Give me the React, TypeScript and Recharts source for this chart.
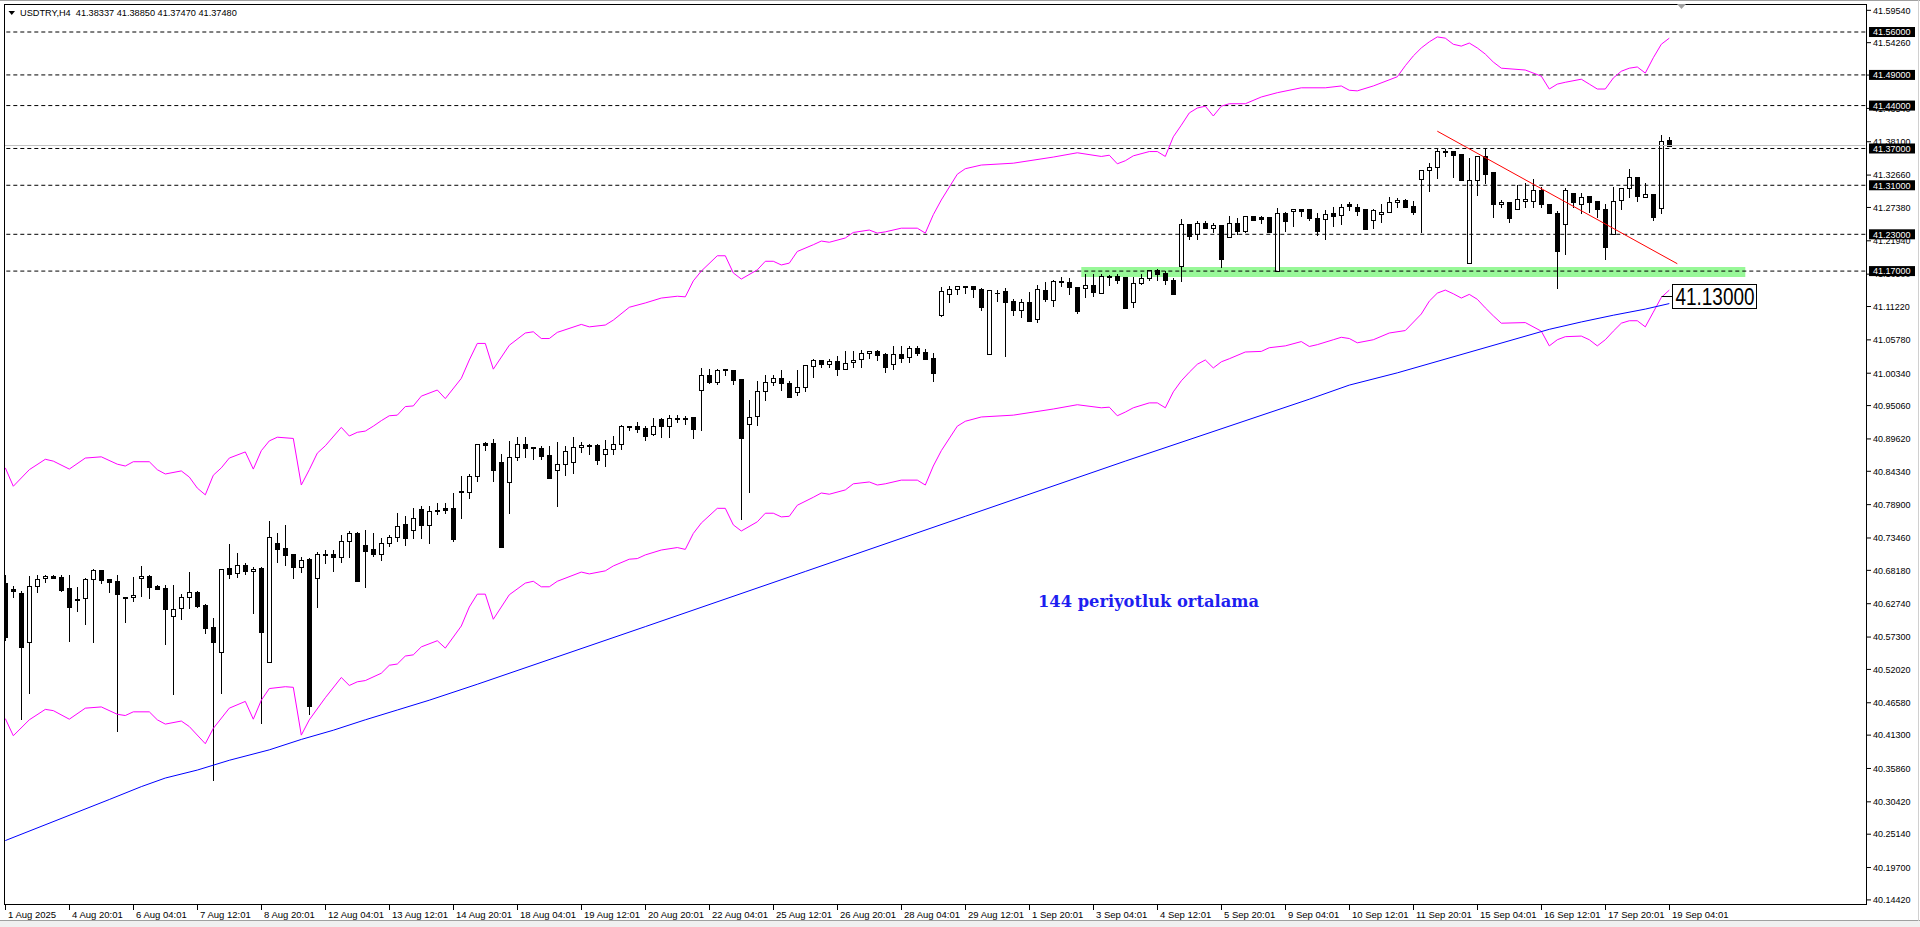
import React from "react";
import {
  ComposedChart,
  Bar,
  Line,
  XAxis,
  YAxis,
  ReferenceLine,
  ReferenceArea,
  ReferenceDot,
} from "recharts";

// USDTRY H4 candles (bar 0 = 1 Aug 12:01)
const OPEN = [
  40.661, 40.651, 40.645, 40.565, 40.656, 40.669, 40.672, 40.671, 40.653, 40.635,
  40.636, 40.667, 40.682, 40.667, 40.665, 40.639, 40.639, 40.669, 40.672, 40.656,
  40.653, 40.607, 40.621, 40.639, 40.647, 40.625, 40.589, 40.549, 40.685, 40.677,
  40.691, 40.680, 40.685, 40.532, 40.726, 40.718, 40.709, 40.687, 40.700, 40.669,
  40.709, 40.708, 40.704, 40.729, 40.743, 40.723, 40.717, 40.708, 40.726, 40.736,
  40.757, 40.748, 40.782, 40.755, 40.781, 40.783, 40.783, 40.812, 40.809, 40.835,
  40.890, 40.890, 40.858, 40.826, 40.866, 40.888, 40.883, 40.882, 40.870, 40.845,
  40.856, 40.858, 40.883, 40.886, 40.886, 40.871, 40.879, 40.888, 40.918, 40.918,
  40.914, 40.904, 40.928, 40.918, 40.930, 40.928, 40.932, 40.976, 41.001, 40.989,
  41.010, 41.009, 40.994, 40.920, 40.934, 40.975, 40.989, 40.995, 40.988, 40.972,
  40.981, 41.015, 41.025, 41.019, 41.023, 41.010, 41.021, 41.026, 41.036, 41.039,
  41.035, 41.019, 41.035, 41.030, 41.044, 41.038, 41.028, 41.098, 41.133, 41.141,
  41.144, 41.145, 41.141, 41.035, 41.135, 41.138, 41.122, 41.107, 41.119, 41.092,
  41.139, 41.123, 41.154, 41.152, 41.144, 41.142, 41.148, 41.135, 41.161, 41.162,
  41.160, 41.119, 41.150, 41.158, 41.171, 41.167, 41.156, 41.179, 41.247, 41.230,
  41.248, 41.241, 41.245, 41.226, 41.248, 41.236, 41.260, 41.258, 41.258, 41.170,
  41.264, 41.268, 41.271, 41.271, 41.256, 41.255, 41.264, 41.261, 41.279, 41.275,
  41.271, 41.254, 41.263, 41.266, 41.282, 41.286, 41.276, 41.321, 41.335, 41.339,
  41.365, 41.366, 41.361, 41.183, 41.318, 41.358, 41.331, 41.279, 41.283, 41.271,
  41.285, 41.285, 41.303, 41.279, 41.264, 41.246, 41.298, 41.280, 41.292, 41.285,
  41.271, 41.230, 41.286, 41.306, 41.324, 41.291, 41.295, 41.273, 41.38337,
];
const HIGH = [
  40.674, 40.657, 40.648, 40.673, 40.674, 40.674, 40.674, 40.674, 40.674, 40.655,
  40.669, 40.684, 40.683, 40.667, 40.674, 40.639, 40.671, 40.689, 40.674, 40.658,
  40.658, 40.658, 40.643, 40.679, 40.648, 40.627, 40.604, 40.684, 40.724, 40.710,
  40.693, 40.688, 40.688, 40.762, 40.742, 40.755, 40.709, 40.703, 40.702, 40.712,
  40.715, 40.715, 40.739, 40.746, 40.745, 40.748, 40.742, 40.734, 40.740, 40.776,
  40.770, 40.783, 40.786, 40.787, 40.791, 40.791, 40.808, 40.835, 40.839, 40.888,
  40.891, 40.896, 40.872, 40.893, 40.899, 40.899, 40.883, 40.885, 40.884, 40.891,
  40.884, 40.899, 40.891, 40.888, 40.888, 40.894, 40.901, 40.919, 40.918, 40.924,
  40.918, 40.930, 40.931, 40.935, 40.935, 40.934, 40.932, 41.012, 41.010, 41.010,
  41.010, 41.009, 40.994, 40.960, 40.991, 41.001, 41.000, 41.008, 40.990, 41.008,
  41.017, 41.027, 41.025, 41.027, 41.031, 41.040, 41.040, 41.041, 41.039, 41.041,
  41.036, 41.048, 41.048, 41.048, 41.048, 41.043, 41.036, 41.144, 41.145, 41.145,
  41.145, 41.145, 41.143, 41.139, 41.139, 41.142, 41.124, 41.124, 41.136, 41.148,
  41.152, 41.155, 41.160, 41.158, 41.144, 41.166, 41.165, 41.165, 41.163, 41.165,
  41.160, 41.160, 41.165, 41.172, 41.173, 41.170, 41.158, 41.255, 41.247, 41.252,
  41.252, 41.249, 41.245, 41.260, 41.256, 41.260, 41.260, 41.260, 41.258, 41.273,
  41.267, 41.271, 41.272, 41.271, 41.264, 41.269, 41.275, 41.279, 41.282, 41.279,
  41.271, 41.271, 41.280, 41.291, 41.290, 41.287, 41.285, 41.335, 41.346, 41.369,
  41.369, 41.366, 41.361, 41.354, 41.357, 41.371, 41.331, 41.286, 41.283, 41.311,
  41.313, 41.320, 41.307, 41.279, 41.268, 41.305, 41.298, 41.297, 41.292, 41.285,
  41.279, 41.307, 41.306, 41.336, 41.324, 41.313, 41.295, 41.392, 41.3885,
];
const LOW = [
  40.568, 40.639, 40.439, 40.481, 40.647, 40.663, 40.669, 40.648, 40.567, 40.616,
  40.595, 40.565, 40.661, 40.646, 40.419, 40.598, 40.632, 40.640, 40.636, 40.651,
  40.561, 40.480, 40.603, 40.621, 40.622, 40.579, 40.340, 40.482, 40.670, 40.671,
  40.676, 40.612, 40.433, 40.532, 40.696, 40.690, 40.670, 40.679, 40.447, 40.622,
  40.693, 40.680, 40.696, 40.703, 40.664, 40.654, 40.705, 40.699, 40.721, 40.730,
  40.723, 40.734, 40.734, 40.727, 40.774, 40.775, 40.730, 40.768, 40.800, 40.827,
  40.878, 40.828, 40.720, 40.776, 40.862, 40.866, 40.864, 40.864, 40.833, 40.787,
  40.838, 40.841, 40.875, 40.872, 40.855, 40.852, 40.872, 40.880, 40.911, 40.907,
  40.894, 40.903, 40.899, 40.900, 40.924, 40.921, 40.898, 40.910, 40.988, 40.986,
  41.000, 40.985, 40.766, 40.810, 40.919, 40.960, 40.984, 40.976, 40.964, 40.968,
  40.975, 40.998, 41.013, 41.013, 41.001, 41.010, 41.013, 41.014, 41.029, 41.025,
  41.006, 41.011, 41.022, 41.022, 41.033, 41.027, 40.991, 41.097, 41.119, 41.133,
  41.135, 41.128, 41.107, 41.035, 41.122, 41.032, 41.099, 41.095, 41.089, 41.087,
  41.122, 41.113, 41.146, 41.133, 41.102, 41.128, 41.130, 41.135, 41.148, 41.150,
  41.109, 41.112, 41.149, 41.155, 41.155, 41.149, 41.133, 41.154, 41.222, 41.222,
  41.241, 41.234, 41.177, 41.226, 41.230, 41.234, 41.254, 41.249, 41.233, 41.170,
  41.236, 41.244, 41.260, 41.254, 41.229, 41.222, 41.243, 41.246, 41.270, 41.261,
  41.239, 41.241, 41.250, 41.266, 41.275, 41.274, 41.263, 41.234, 41.301, 41.322,
  41.357, 41.324, 41.318, 41.183, 41.294, 41.314, 41.259, 41.274, 41.250, 41.271,
  41.275, 41.275, 41.274, 41.264, 41.142, 41.198, 41.274, 41.265, 41.267, 41.259,
  41.189, 41.230, 41.272, 41.291, 41.285, 41.291, 41.254, 41.264, 41.3747,
];
const CLOSE = [
  40.573, 40.648, 40.556, 40.656, 40.667, 40.672, 40.670, 40.650, 40.622, 40.633,
  40.668, 40.682, 40.666, 40.662, 40.644, 40.637, 40.642, 40.672, 40.655, 40.652,
  40.618, 40.618, 40.639, 40.646, 40.623, 40.588, 40.565, 40.684, 40.676, 40.690,
  40.680, 40.684, 40.582, 40.736, 40.717, 40.707, 40.688, 40.699, 40.461, 40.709,
  40.707, 40.703, 40.729, 40.743, 40.664, 40.714, 40.709, 40.726, 40.736, 40.754,
  40.734, 40.768, 40.755, 40.779, 40.779, 40.780, 40.733, 40.809, 40.836, 40.888,
  40.887, 40.846, 40.720, 40.866, 40.888, 40.882, 40.881, 40.869, 40.833, 40.856,
  40.877, 40.883, 40.886, 40.884, 40.862, 40.880, 40.888, 40.917, 40.916, 40.912,
  40.901, 40.918, 40.918, 40.930, 40.928, 40.931, 40.913, 41.000, 40.989, 41.009,
  41.008, 40.993, 40.897, 40.932, 40.975, 40.989, 40.995, 40.987, 40.964, 40.981,
  41.017, 41.025, 41.019, 41.023, 41.011, 41.020, 41.025, 41.037, 41.039, 41.033,
  41.014, 41.035, 41.029, 41.045, 41.037, 41.027, 41.003, 41.137, 41.141, 41.145,
  41.145, 41.140, 41.112, 41.139, 41.134, 41.120, 41.107, 41.119, 41.089, 41.141,
  41.124, 41.154, 41.152, 41.144, 41.105, 41.148, 41.136, 41.162, 41.162, 41.156,
  41.109, 41.150, 41.158, 41.171, 41.166, 41.155, 41.133, 41.246, 41.228, 41.248,
  41.241, 41.245, 41.189, 41.248, 41.236, 41.260, 41.254, 41.255, 41.233, 41.264,
  41.252, 41.271, 41.268, 41.257, 41.236, 41.263, 41.260, 41.275, 41.276, 41.268,
  41.239, 41.269, 41.266, 41.283, 41.286, 41.275, 41.267, 41.335, 41.339, 41.366,
  41.366, 41.360, 41.318, 41.319, 41.357, 41.329, 41.279, 41.283, 41.257, 41.287,
  41.287, 41.303, 41.279, 41.264, 41.203, 41.303, 41.282, 41.291, 41.283, 41.271,
  41.210, 41.285, 41.306, 41.324, 41.292, 41.295, 41.258, 41.383, 41.3748,
];

// one label every 8 bars
const TIME_LABELS = [
  "1 Aug 2025", "4 Aug 20:01", "6 Aug 04:01", "7 Aug 12:01", "8 Aug 20:01",
  "12 Aug 04:01", "13 Aug 12:01", "14 Aug 20:01", "18 Aug 04:01", "19 Aug 12:01",
  "20 Aug 20:01", "22 Aug 04:01", "25 Aug 12:01", "26 Aug 20:01", "28 Aug 04:01",
  "29 Aug 12:01", "1 Sep 20:01", "3 Sep 04:01", "4 Sep 12:01", "5 Sep 20:01",
  "9 Sep 04:01", "10 Sep 12:01", "11 Sep 20:01", "15 Sep 04:01", "16 Sep 12:01",
  "17 Sep 20:01", "19 Sep 04:01",
];

// envelope + 144 MA, [bar, price]
const UPPER_BAND = [
  [0, 40.849], [1, 40.819], [3, 40.846], [5, 40.863], [6, 40.86], [8, 40.847], [10, 40.865],
  [12, 40.867], [14, 40.855], [15, 40.852], [16, 40.859], [18, 40.859], [19, 40.846], [20, 40.839],
  [22, 40.844], [23, 40.834], [24, 40.816], [25, 40.805], [26, 40.837], [27, 40.849], [28, 40.865],
  [30, 40.875], [31, 40.847], [32, 40.877], [33, 40.893], [34, 40.899], [36, 40.897], [37, 40.821],
  [38, 40.846], [39, 40.873], [40, 40.885], [42, 40.915], [43, 40.901], [44, 40.907], [45, 40.909],
  [46, 40.917], [47, 40.926], [48, 40.934], [49, 40.935], [50, 40.949], [51, 40.95], [52, 40.966],
  [54, 40.976], [55, 40.962], [57, 40.995], [58, 41.025], [59, 41.052], [60, 41.052], [61, 41.01],
  [63, 41.049], [65, 41.069], [66, 41.071], [67, 41.06], [68, 41.06], [69, 41.07], [72, 41.083],
  [73, 41.079], [75, 41.082], [76, 41.09], [78, 41.111], [80, 41.118], [82, 41.126], [84, 41.129],
  [85, 41.128], [86, 41.154], [87, 41.17], [89, 41.195], [90, 41.195], [91, 41.167], [92, 41.157],
  [94, 41.172], [95, 41.186], [96, 41.186], [97, 41.18], [98, 41.183], [99, 41.202], [101, 41.213],
  [102, 41.219], [103, 41.217], [105, 41.224], [106, 41.233], [108, 41.237], [109, 41.232],
  [110, 41.234], [112, 41.24], [114, 41.24], [115, 41.232], [116, 41.262], [117, 41.286],
  [119, 41.328], [120, 41.337], [122, 41.343], [126, 41.346], [131, 41.356], [134, 41.363],
  [137, 41.357], [138, 41.359], [139, 41.345], [140, 41.35], [141, 41.358], [143, 41.365],
  [144, 41.365], [145, 41.357], [146, 41.389], [147, 41.408], [148, 41.428], [149, 41.436],
  [150, 41.439], [151, 41.423], [152, 41.439], [153, 41.443], [155, 41.443], [157, 41.454],
  [159, 41.461], [162, 41.469], [165, 41.469], [167, 41.472], [168, 41.465], [169, 41.464],
  [171, 41.472], [174, 41.487], [175, 41.505], [176, 41.521], [177, 41.534], [178, 41.544],
  [179, 41.552], [180, 41.55], [181, 41.54], [182, 41.537], [183, 41.542], [184, 41.534],
  [185, 41.524], [186, 41.511], [187, 41.501], [190, 41.498], [192, 41.488], [193, 41.467],
  [194, 41.475], [195, 41.478], [197, 41.483], [198, 41.475], [199, 41.467], [200, 41.467],
  [201, 41.485], [202, 41.496], [203, 41.501], [204, 41.503], [205, 41.493], [206, 41.518],
  [207, 41.54], [208, 41.55],
];
const LOWER_BAND = [
  [0, 40.44], [1, 40.412], [3, 40.438], [5, 40.455], [6, 40.453], [8, 40.439], [10, 40.457],
  [12, 40.459], [14, 40.447], [15, 40.445], [16, 40.451], [18, 40.451], [19, 40.438], [20, 40.431],
  [22, 40.436], [23, 40.427], [25, 40.399], [26, 40.424], [28, 40.457], [30, 40.468], [31, 40.439],
  [32, 40.47], [33, 40.489], [35, 40.492], [36, 40.491], [37, 40.413], [38, 40.438], [40, 40.474],
  [42, 40.507], [43, 40.494], [44, 40.5], [45, 40.502], [47, 40.514], [48, 40.527], [49, 40.529],
  [50, 40.542], [51, 40.544], [52, 40.557], [54, 40.567], [55, 40.555], [57, 40.591], [58, 40.622],
  [59, 40.643], [60, 40.643], [61, 40.602], [63, 40.642], [65, 40.661], [66, 40.664], [67, 40.655],
  [68, 40.655], [69, 40.664], [72, 40.679], [73, 40.676], [75, 40.681], [76, 40.689], [78, 40.7],
  [79, 40.701], [80, 40.707], [82, 40.715], [84, 40.719], [85, 40.716], [86, 40.742], [87, 40.759],
  [89, 40.783], [90, 40.783], [91, 40.756], [92, 40.746], [94, 40.761], [95, 40.775], [96, 40.775],
  [97, 40.769], [98, 40.77], [99, 40.788], [101, 40.801], [102, 40.808], [103, 40.806],
  [105, 40.813], [106, 40.823], [108, 40.826], [109, 40.821], [110, 40.823], [112, 40.829],
  [114, 40.829], [115, 40.821], [116, 40.852], [117, 40.877], [119, 40.917], [120, 40.925],
  [122, 40.932], [126, 40.935], [131, 40.945], [134, 40.952], [137, 40.947], [138, 40.948],
  [139, 40.934], [140, 40.94], [141, 40.947], [143, 40.955], [144, 40.955], [145, 40.947],
  [146, 40.973], [147, 40.991], [148, 41.005], [149, 41.018], [150, 41.025], [151, 41.012],
  [152, 41.022], [153, 41.027], [155, 41.038], [157, 41.039], [158, 41.045], [160, 41.048],
  [162, 41.055], [163, 41.047], [164, 41.05], [166, 41.058], [167, 41.062], [168, 41.06],
  [169, 41.053], [171, 41.058], [173, 41.069], [175, 41.073], [177, 41.1], [178, 41.121],
  [179, 41.134], [180, 41.139], [181, 41.133], [182, 41.126], [183, 41.132], [184, 41.124],
  [185, 41.11], [186, 41.097], [187, 41.085], [190, 41.086], [192, 41.072], [193, 41.048],
  [194, 41.058], [195, 41.063], [197, 41.064], [198, 41.058], [199, 41.048], [200, 41.058],
  [201, 41.072], [202, 41.085], [203, 41.089], [204, 41.089], [205, 41.079], [206, 41.103],
  [207, 41.127], [208, 41.139],
];
const MA_144 = [
  [0, 40.241], [13, 40.308], [17, 40.329], [20, 40.343], [24, 40.356], [28, 40.372], [33, 40.389],
  [37, 40.406], [41, 40.421], [45, 40.438], [49, 40.454], [53, 40.47], [59, 40.496], [80, 40.59],
  [100, 40.68], [120, 40.77], [140, 40.86], [163, 40.961], [168, 40.984], [174, 41.004],
  [193, 41.075], [197, 41.087], [201, 41.098], [205, 41.108], [208, 41.117],
];

const PRICE_TICKS = [
  41.5954, 41.5426, 41.4898, 41.4354, 41.381, 41.3266, 41.2738, 41.2194, 41.165, 41.1122,
  41.0578, 41.0034, 40.9506, 40.8962, 40.8434, 40.789, 40.7346, 40.6818, 40.6274, 40.573,
  40.5202, 40.4658, 40.413, 40.3586, 40.3042, 40.2514, 40.197, 40.1442,
];
const LEVELS = [41.56, 41.49, 41.44, 41.37, 41.31, 41.23, 41.17];
const BID = 41.3748;
const NOTE_PRICE = 41.13;
const ZONE_BARS = [135, 217];
const ZONE_PRICES = [41.1604, 41.1767];
const TREND = [
  { x: 179, y: 41.3982 },
  { x: 209, y: 41.182 },
];

const SLOTS = 233;
const AXIS_X = 1867;
const FONT = "'Liberation Sans', Arial, sans-serif";

const rows: any[] = Array.from({ length: SLOTS }, (_, i) => ({
  i,
  o: OPEN[i],
  h: HIGH[i],
  l: LOW[i],
  c: CLOSE[i],
}));
UPPER_BAND.forEach(([b, v]) => (rows[b].up = v));
LOWER_BAND.forEach(([b, v]) => (rows[b].lo = v));
MA_144.forEach(([b, v]) => (rows[b].ma = v));

const Candle = (props: any) => {
  const { x, y, width, height, payload } = props;
  if (!payload || payload.o == null || height == null || isNaN(height)) return null;
  const { o, h, l, c } = payload;
  const top = Math.min(y, y + height);
  const span = Math.abs(height);
  const k = span / (h - l || 1);
  const cx = Math.floor(x + width / 2) + 0.5;
  const yo = top + (h - o) * k;
  const yc = top + (h - c) * k;
  const bt = Math.round(Math.min(yo, yc)) + 0.5;
  const bb = Math.round(Math.max(yo, yc)) + 0.5;
  const up = c >= o;
  return (
    <g>
      <line x1={cx} x2={cx} y1={Math.round(top)} y2={Math.round(top + span) + 1} stroke="#000" />
      {bb - bt < 1 ? (
        <line x1={cx - 2.5} x2={cx + 2.5} y1={bt} y2={bt} stroke="#000" />
      ) : (
        <rect x={cx - 2} y={bt} width={4} height={bb - bt} fill={up ? "#fff" : "#000"} stroke="#000" />
      )}
    </g>
  );
};

const PriceTick = (props: any) => {
  const { y, payload } = props;
  const v = payload.value;
  const txt = v.toFixed(5);
  if (LEVELS.includes(v)) {
    return (
      <g>
        <rect x={AXIS_X + 2} y={y - 5} width={46} height={10} fill="#000" />
        <text x={AXIS_X + 6} y={y + 3.3} fill="#fff" fontSize={9} fontFamily={FONT}>
          {txt}
        </text>
      </g>
    );
  }
  return (
    <g>
      <line x1={AXIS_X} x2={AXIS_X + 4} y1={y} y2={y} stroke="#000" />
      <text x={AXIS_X + 6} y={y + 3.3} fill="#000" fontSize={9} fontFamily={FONT}>
        {txt}
      </text>
    </g>
  );
};

const TimeTick = (props: any) => {
  const { x, payload } = props;
  const label = TIME_LABELS[payload.value / 8];
  const px = Math.floor(x) + 0.5;
  return (
    <g>
      <line x1={px} x2={px} y1={905} y2={910} stroke="#000" />
      <text x={px + 2.5} y={917.5} fill="#000" fontSize={9.5} fontFamily={FONT}>
        {label}
      </text>
    </g>
  );
};

const NoteLabel = (props: any) => {
  const { cx, cy } = props;
  const x0 = Math.floor(cx) + 0.5;
  const y0 = Math.round(cy) + 0.5;
  return (
    <g>
      <line x1={x0 - 8} x2={x0 + 3} y1={y0} y2={y0} stroke="#000" />
      <rect x={x0 + 3} y={y0 - 12} width={84} height={24} fill="#fff" stroke="#000" />
      <text x={x0 + 6} y={y0 + 8.5} fontSize={23} fontFamily={FONT} textLength={79} lengthAdjust="spacingAndGlyphs" fill="#000">
        {NOTE_PRICE.toFixed(5)}
      </text>
    </g>
  );
};

export default function App() {
  const labelTicks = TIME_LABELS.map((_, k) => k * 8);
  return (
    <div style={{ position: "fixed", left: 0, top: 0, width: 1920, height: 927, background: "#fff", overflow: "hidden" }}>
      <ComposedChart
        width={1920}
        height={927}
        data={rows}
        margin={{ top: 4, right: 0, bottom: 0, left: 1.3 }}
        barCategoryGap={0}
      >
        <XAxis
          dataKey="i"
          type="category"
          ticks={labelTicks}
          interval={0}
          height={22}
          tickSize={0}
          axisLine={false}
          tickLine={false}
          tick={(p: any) => <TimeTick {...p} />}
        />
        <YAxis
          orientation="right"
          type="number"
          domain={[40.1359, 41.6057]}
          allowDataOverflow
          ticks={[...PRICE_TICKS, ...LEVELS]}
          interval={0}
          width={54.7}
          tickSize={0}
          tickMargin={0}
          axisLine={false}
          tickLine={false}
          tick={(p: any) => <PriceTick {...p} />}
        />
        <ReferenceArea
          x1={ZONE_BARS[0]}
          x2={ZONE_BARS[1]}
          y1={ZONE_PRICES[0]}
          y2={ZONE_PRICES[1]}
          fill="#98f898"
          fillOpacity={1}
          stroke="none"
        />
        {LEVELS.map((v) => (
          <ReferenceLine key={v} y={v} stroke="#000" strokeDasharray="4 3" />
        ))}
        <ReferenceLine y={BID} stroke="#c0c0c0" />
        <Line dataKey="up" stroke="#ff00ff" dot={false} activeDot={false} connectNulls isAnimationActive={false} />
        <Line dataKey="lo" stroke="#ff00ff" dot={false} activeDot={false} connectNulls isAnimationActive={false} />
        <Line dataKey="ma" stroke="#0000ff" dot={false} activeDot={false} connectNulls isAnimationActive={false} />
        <Bar
          dataKey={(d: any) => (d.h != null ? [d.l, d.h] : null)}
          shape={(p: any) => <Candle {...p} />}
          isAnimationActive={false}
        />
        <ReferenceLine segment={TREND} stroke="#ff0000" />
        <ReferenceDot x={208} y={NOTE_PRICE} r={0} shape={(p: any) => <NoteLabel {...p} />} />
      </ComposedChart>
      <svg width={1920} height={927} style={{ position: "absolute", left: 0, top: 0, pointerEvents: "none" }}>
        <rect x={0} y={0} width={4} height={906} fill="#fff" />
        <line x1={0} x2={1920} y1={0.5} y2={0.5} stroke="#a0a0a0" />
        <rect x={4.5} y={4.5} width={1862} height={900} fill="none" stroke="#000" />
        <polygon points="8.5,11 15,11 11.75,15" fill="#000" />
        <text x={20} y={16} fontSize={9.2} fontFamily={FONT} fill="#000" xmlSpace="preserve">
          USDTRY,H4  41.38337 41.38850 41.37470 41.37480
        </text>
        <polygon points="1677,4 1686,4 1681.5,9" fill="#a0a0a0" />
        <text x={1038} y={607} fontSize={17} fontWeight="bold" fontFamily="'DejaVu Serif', serif" fill="#1e1ef0" textLength={221} lengthAdjust="spacingAndGlyphs">
          144 periyotluk ortalama
        </text>
        <rect x={0} y={921} width={1920} height={6} fill="#f0f0f0" />
        <line x1={0} x2={1920} y1={920.5} y2={920.5} stroke="#a0a0a0" />
        <line x1={1918.5} x2={1918.5} y1={0} y2={921} stroke="#d0d0d0" />
      </svg>
    </div>
  );
}
